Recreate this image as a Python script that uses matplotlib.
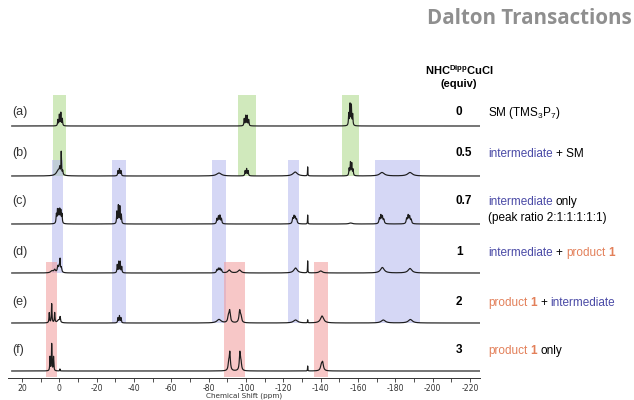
import matplotlib.pyplot as plt
import numpy as np
from matplotlib.patches import Rectangle

plt.rcParams['font.family'] = ['Liberation Sans', 'DejaVu Sans']
plt.rcParams['mathtext.fontset'] = 'custom'
plt.rcParams['mathtext.rm'] = 'Liberation Sans'
plt.rcParams['mathtext.it'] = 'Liberation Sans:italic'
plt.rcParams['mathtext.bf'] = 'Liberation Sans:bold'
plt.rcParams['axes.unicode_minus'] = False

# ---- data ---------------------------------------------------------------
row_labels = ['(a)', '(b)', '(c)', '(d)', '(e)', '(f)']
equiv = ['0', '0.5', '0.7', '1', '2', '3']

# peaks of each trace: (shift ppm, height, half width ppm)
peaks_a = [(0.8, 6, 0.18), (0.0, 11, 0.18), (-0.8, 13, 0.18), (-1.6, 7, 0.18),
           (-99.0, 7, 0.18), (-99.8, 10, 0.18), (-100.6, 10, 0.18), (-101.4, 6, 0.18),
           (-155.0, 12, 0.18), (-155.7, 21, 0.18), (-156.4, 20, 0.18), (-157.1, 11, 0.18)]
peaks_b = [(0.5, 6, 1.2), (-1.0, 22, 0.15), (-0.2, 5, 0.2), (-1.8, 4, 0.2),
           (-31.4, 5, 0.2), (-32.2, 7, 0.2), (-33.0, 5, 0.2),
           (-85.5, 3, 1.5),
           (-99.5, 5, 0.2), (-100.3, 7, 0.2), (-101.1, 5, 0.2),
           (-126.3, 4, 1.4), (-133.0, 9, 0.1),
           (-155.2, 7, 0.2), (-155.9, 13, 0.2), (-156.6, 12, 0.2), (-157.3, 6, 0.2),
           (-172.8, 3.5, 1.5), (-187.8, 3.5, 1.5)]
peaks_c = [(1.6, 9, 0.2), (1.0, 13, 0.2), (0.4, 12, 0.2), (-0.2, 13, 0.2), (-0.8, 12, 0.2),
           (-1.4, 9, 0.2),
           (-30.8, 12, 0.18), (-31.6, 18, 0.18), (-32.4, 17, 0.18), (-33.2, 9, 0.18),
           (-84.4, 5, 0.25), (-85.2, 7, 0.25), (-86.0, 8, 0.25), (-86.8, 5, 0.25),
           (-125.0, 5, 0.3), (-125.7, 7, 0.3), (-126.4, 6, 0.3), (-127.1, 4, 0.3),
           (-133.0, 9, 0.1), (-156.0, 1, 1.0),
           (-171.4, 5, 0.3), (-172.2, 8, 0.3), (-173.0, 7, 0.3), (-173.8, 4, 0.3),
           (-186.0, 5, 0.3), (-186.8, 8, 0.3), (-187.6, 7, 0.3), (-188.4, 4, 0.3)]
peaks_d = [(4.0, 2, 0.8), (2.5, 3, 0.5), (0.8, 6, 0.35), (0.0, 7, 0.35), (-0.4, 10, 0.12),
           (-1.0, 5, 0.35),
           (-31.0, 8, 0.18), (-31.8, 11, 0.18), (-32.6, 11, 0.18), (-33.4, 6, 0.18),
           (-84.4, 3, 0.3), (-85.2, 4, 0.3), (-86.0, 4, 0.3), (-86.8, 3, 0.3),
           (-91.0, 3, 0.8), (-96.5, 3, 0.9),
           (-126.5, 5, 1.1), (-133.0, 12, 0.1), (-140.0, 2, 1.0),
           (-173.0, 5.5, 1.2), (-187.8, 4.5, 1.2)]
peaks_e = [(5.4, 10, 0.18), (4.1, 19, 0.18), (2.5, 10, 0.18), (-0.4, 5, 0.2), (0.4, 3, 0.8),
           (-31.4, 5, 0.2), (-32.2, 7, 0.2), (-33.0, 5, 0.2),
           (-85.5, 3.5, 1.3),
           (-90.5, 5, 0.4), (-91.2, 12, 0.45), (-96.6, 12, 0.45), (-97.3, 5, 0.4),
           (-126.5, 3, 1.3), (-133.0, 3, 0.1), (-140.7, 7, 1.0),
           (-173.5, 3, 1.3), (-188.0, 3.5, 1.3)]
peaks_f = [(5.0, 14, 0.16), (4.1, 27, 0.16), (3.1, 14, 0.16), (-0.3, 2, 0.1),
           (-90.7, 7, 0.35), (-91.3, 18, 0.35), (-96.7, 18, 0.35), (-97.3, 7, 0.35),
           (-133.0, 5, 0.1), (-140.3, 5, 0.5), (-141.0, 8, 0.5)]
spectra = [peaks_a, peaks_b, peaks_c, peaks_d, peaks_e, peaks_f]

# highlighted regions: (ppm left, ppm right, first row, last row, species)
regions = [(3.5, -3.5, 0, 1, 'SM'), (-95.5, -105.2, 0, 1, 'SM'), (-151.5, -160.5, 0, 1, 'SM'),
           (4.0, -2.0, 1, 3, 'int'), (-28.3, -35.7, 1, 4, 'int'), (-82.0, -89.0, 1, 4, 'int'),
           (-122.4, -128.3, 1, 4, 'int'), (-169.0, -193.2, 1, 4, 'int'),
           (7.1, 1.2, 3, 5, 'prod'), (-88.3, -99.5, 3, 5, 'prod'), (-136.4, -144.0, 3, 5, 'prod')]

BLUE = '#4a4aa6'
ORANGE = '#e3805a'
# right-hand descriptions: (text, colour, weight)
descriptions = [
    [('SM (TMS$_3$P$_7$)', 'black', 'normal')],
    [('intermediate', BLUE, 'normal'), ('+ SM', 'black', 'normal')],
    [('intermediate', BLUE, 'normal'), ('only', 'black', 'normal')],
    [('intermediate', BLUE, 'normal'), ('+', 'black', 'normal'), ('product', ORANGE, 'normal'), ('1', ORANGE, 'bold')],
    [('product', ORANGE, 'normal'), ('1', ORANGE, 'bold'), ('+', 'black', 'normal'), ('intermediate', BLUE, 'normal')],
    [('product', ORANGE, 'normal'), ('1', ORANGE, 'bold'), ('only', 'black', 'normal')],
]

# ---- layout --------------------------------------------------------------
W, H = 634, 400
fig = plt.figure(figsize=(W / 100, H / 100), dpi=100)
ax = fig.add_axes([8 / W, 22 / H, 472 / W, 290 / H])

offsets = [252, 202, 154, 105, 55, 7]
label_y = [112, 153, 201, 252, 302, 350]
fill = {'SM': '#abd886', 'int': '#b4b6ee', 'prod': '#f19a9a'}
pad_top = {'SM': 31, 'int': 16, 'prod': 11}
pad_bot = {'SM': 0, 'int': 0, 'prod': -6}

for lo, hi, r0, r1, kind in regions:
    top = offsets[r0] + pad_top[kind]
    bot = offsets[r1] + pad_bot[kind]
    ax.add_patch(Rectangle((hi, bot), lo - hi, top - bot, facecolor=fill[kind],
                           alpha=0.55, edgecolor='none', zorder=1))

x = np.linspace(25.5, -225, 8000)
for peaks, off in zip(spectra, offsets):
    y = np.zeros_like(x)
    for p, h, w in peaks:
        y += h / (1 + ((x - p) / w) ** 2)
    ax.plot(x, y + off, color='#1c1c1c', lw=0.85, zorder=3)

ax.set_xlim(27.5, -225.3)
ax.set_ylim(0, 290)
for s in ['left', 'right', 'top']:
    ax.spines[s].set_visible(False)
ax.spines['bottom'].set_linewidth(0.7)
ax.spines['bottom'].set_color('#333333')
ax.set_yticks([])
ax.set_xticks(np.arange(20, -221, -20))
ax.set_xticks(np.arange(10, -221, -20), minor=True)
ax.tick_params(axis='x', which='both', direction='out', length=3, width=0.6,
               color='#333333', labelsize=5.6, labelcolor='#333333', pad=1)
for lab in ax.get_xticklabels():
    lab.set_family('DejaVu Sans')
ax.set_xlabel('Chemical Shift (ppm)', fontsize=5.2, family='DejaVu Sans',
              color='#333333', labelpad=0)
ax.patch.set_alpha(0)


def px(xp, yp):
    return xp / W, 1 - yp / H


for lab, yy in zip(row_labels, label_y):
    fig.text(*px(12, yy), lab, fontsize=9, va='center', ha='left', color='#333333')

for eq, yy in zip(equiv, label_y):
    fig.text(*px(456, yy), eq, fontsize=8.5, fontweight='bold', va='center', ha='left')

space = 0.278 * 8.5
for parts, yy in zip(descriptions, label_y):
    s, c, wt = parts[0]
    t = fig.text(*px(488, yy + 1), s, fontsize=8.5, color=c, fontweight=wt,
                 va='center', ha='left')
    for s, c, wt in parts[1:]:
        t = ax.annotate(s, xy=(1, 0), xycoords=t, xytext=(space, 0),
                        textcoords='offset points', va='bottom', ha='left',
                        fontsize=8.5, color=c, fontweight=wt)
fig.text(*px(488, 218), '(peak ratio 2:1:1:1:1:1)', fontsize=8.5, va='center', ha='left')

fig.text(*px(460, 70), r'NHC$^{\mathbf{Dipp}}$CuCl', fontsize=8, fontweight='bold',
         ha='center', va='center')
fig.text(*px(459, 84), '(equiv)', fontsize=8, fontweight='bold', ha='center', va='center')

fig.text(*px(632, 18), 'Dalton Transactions', fontsize=14.8, fontweight='bold',
         family='Open Sans', color='#8f8f8f', ha='right', va='center')

fig.savefig('out.png', dpi=100)
